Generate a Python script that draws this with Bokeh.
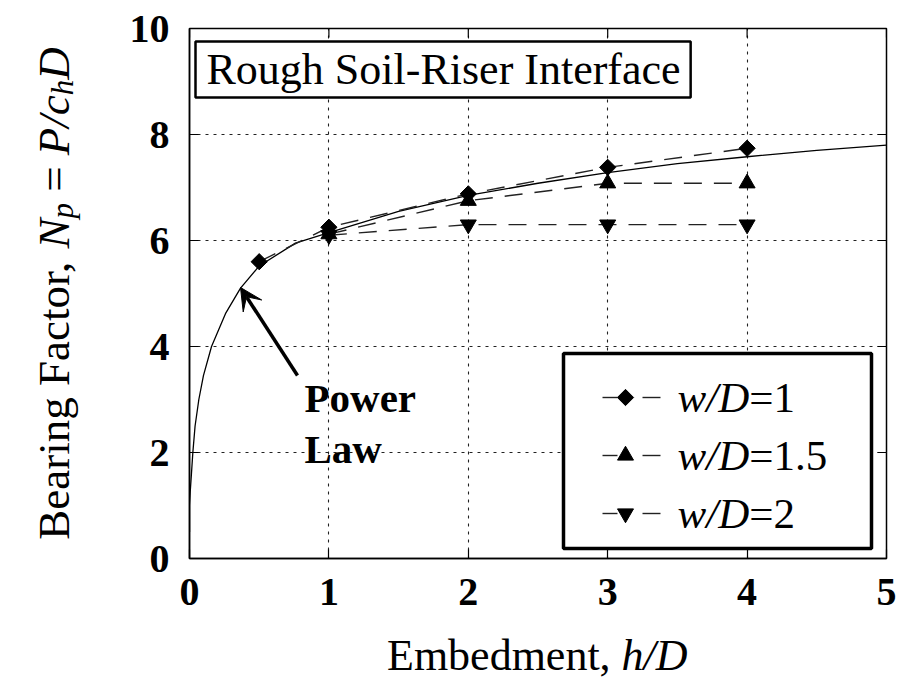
import numpy as np
from bokeh.plotting import figure
from bokeh.layouts import row, column
from bokeh.models import (Range1d, FixedTicker, Label, BoxAnnotation, Arrow, VeeHead, Div)
from bokeh.embed import file_html
from bokeh.resources import INLINE

# ---------------- data ----------------
h_w1 = [0.5, 1, 2, 3, 4]
np_w1 = [5.6, 6.25, 6.88, 7.38, 7.74]
h_w15 = [1, 2, 3, 4]
np_w15 = [6.12, 6.75, 7.08, 7.08]
h_w2 = [1, 2, 3, 4]
np_w2 = [6.1, 6.3, 6.3, 6.3]
power_h = [0.0, 0.0, 0.005, 0.014, 0.024, 0.04, 0.067, 0.1, 0.158, 0.258, 0.366,
           0.5, 0.76, 1.0, 1.5, 2.0, 2.5, 3.0, 3.5, 4.0, 4.5, 5.0]
power_np = [0.5, 1.0, 1.25, 1.6, 2.0, 2.5, 3.0, 3.45, 4.0, 4.62, 5.1,
            5.52, 5.95, 6.15, 6.55, 6.85, 7.08, 7.28, 7.45, 7.58, 7.7, 7.8]
x_ticks = [0, 1, 2, 3, 4, 5]
y_ticks = [0, 2, 4, 6, 8, 10]
series_labels = ["=1", "=1.5", "=2"]
series_markers = ["square", "triangle", "inverted_triangle"]

# ---------------- layout ----------------
W, H = 899, 683
WL = 100            # width of the y-title strip
HM = 628            # height of the main figure
FL, FR, FT, FB = 189, 886, 28, 558   # frame edges in page pixels
XMAX, YMAX = 5.0, 10.0
SERIF = "Liberation Serif"


def px2x(px):
    return (px - FL) / (FR - FL) * XMAX


def px2y(py):
    return (FB - py) / (FB - FT) * YMAX


DX = XMAX / (FR - FL)
DY = YMAX / (FB - FT)


def no_align(f):
    try:
        f.frame_align = False
    except Exception:
        pass


p = figure(width=W - WL, height=HM, output_backend="svg", toolbar_location=None,
           x_range=Range1d(0, XMAX), y_range=Range1d(0, YMAX),
           min_border_left=FL - WL, min_border_right=W - FR,
           min_border_top=FT, min_border_bottom=HM - FB,
           background_fill_color="white", border_fill_color="white")
no_align(p)
p.outline_line_color = "black"
p.outline_line_width = 1.5

for ax, ticks in ((p.xaxis[0], x_ticks), (p.yaxis[0], y_ticks)):
    ax.ticker = FixedTicker(ticks=ticks)
    ax.major_tick_in = 9
    ax.major_tick_out = 0
    ax.minor_tick_in = 0
    ax.minor_tick_out = 0
    ax.axis_line_color = "black"
    ax.axis_line_width = 1.5
    ax.major_tick_line_width = 1.2
    ax.major_label_text_font = SERIF
    ax.major_label_text_font_style = "bold"
    ax.major_label_text_font_size = "40px"
    ax.major_label_text_color = "black"
    ax.major_label_standoff = 20

# inner ticks on the top and right edges
p.segment(x0=x_ticks, y0=[YMAX] * len(x_ticks), x1=x_ticks,
          y1=[YMAX - 9 * DY] * len(x_ticks), line_color="black", line_width=1.2)
p.segment(x0=[XMAX] * len(y_ticks), y0=y_ticks, x1=[XMAX - 9 * DX] * len(y_ticks),
          y1=y_ticks, line_color="black", line_width=1.2)

p.xgrid.ticker = FixedTicker(ticks=x_ticks[1:-1])
p.ygrid.ticker = FixedTicker(ticks=y_ticks[1:-1])
for g in (p.xgrid, p.ygrid):
    g.grid_line_color = "#222222"
    g.grid_line_dash = "3 5"
    g.grid_line_width = 1.1

# ---------------- data marks ----------------
p.line(power_h, power_np, line_color="black", line_width=1.3)
DASH = "18 12"
for hx, ny in ((h_w1, np_w1), (h_w15, np_w15), (h_w2, np_w2)):
    p.line(hx, ny, line_color="#222222", line_width=1.4, line_dash=DASH)
p.scatter(h_w1, np_w1, marker="square", angle=np.pi / 4, size=11.5, color="black")
p.scatter(h_w15, np_w15, marker="triangle", size=16, color="black")
p.scatter(h_w2, np_w2, marker="inverted_triangle", size=16, color="black")

# ---------------- "Power Law" annotation ----------------
p.add_layout(Arrow(end=VeeHead(size=22, fill_color="black", line_color="black"),
                   x_start=px2x(297), y_start=px2y(375), x_end=px2x(240), y_end=px2y(287),
                   line_width=3.5, line_color="black"))
for txt, base in (("Power", 397), ("Law", 448)):
    p.add_layout(Label(x=px2x(304), y=px2y(base), text=txt, text_font=SERIF,
                       text_font_style="bold", text_font_size="41px", text_color="black",
                       text_baseline="alphabetic", text_align="left"))

# ---------------- text metrics (Times-compatible) ----------------
REG = {' ': 250, ',': 250, '-': 333, '.': 250, '/': 278, '=': 564, 'B': 667, 'D': 722,
       'E': 611, 'F': 556, 'I': 333, 'L': 611, 'N': 722, 'P': 556, 'R': 667, 'S': 556,
       'a': 444, 'b': 500, 'c': 444, 'd': 500, 'e': 444, 'f': 333, 'g': 500, 'h': 500,
       'i': 278, 'l': 278, 'm': 778, 'n': 500, 'o': 500, 'p': 500, 'r': 333, 's': 389,
       't': 278, 'u': 500, 'w': 722}
for c in "0123456789":
    REG[c] = 500
ITA = {'N': 667, 'P': 611, 'D': 722, 'c': 444, 'h': 500, 'p': 500, 'w': 667, '/': 278}


def tw(s, table, size):
    return sum(table.get(c, 500) for c in s) / 1000.0 * size


# ---------------- title box ----------------
TSIZE = 44
title_txt = "Rough Soil-Riser Interface"
t_left = 206
t_right = t_left + tw(title_txt, REG, TSIZE) + 10
p.add_layout(BoxAnnotation(left=px2x(195), right=px2x(t_right), top=px2y(41), bottom=px2y(97),
                           fill_color="white", fill_alpha=1.0, line_color="black",
                           line_alpha=1.0, line_width=2.5))
p.add_layout(Label(x=px2x(t_left), y=px2y(69), text=title_txt, text_font=SERIF,
                   text_font_size=f"{TSIZE}px", text_color="black",
                   text_baseline="middle", text_align="left"))

# ---------------- legend (drawn by hand) ----------------
p.add_layout(BoxAnnotation(left=px2x(563), right=px2x(871), top=px2y(353), bottom=px2y(548),
                           fill_color="white", fill_alpha=1.0, line_color="black",
                           line_alpha=1.0, line_width=3.5, level="annotation"))
leg_y = [397, 455, 513]
LSIZE = 43
for i, (mk, lab) in enumerate(zip(series_markers, series_labels)):
    yy = px2y(leg_y[i])
    p.segment(x0=[px2x(602)], y0=[yy], x1=[px2x(617)], y1=[yy], line_color="#222222",
              line_width=1.4, level="overlay")
    p.segment(x0=[px2x(642)], y0=[yy], x1=[px2x(660)], y1=[yy], line_color="#222222",
              line_width=1.4, level="overlay")
    if mk == "square":
        p.scatter([px2x(625)], [yy], marker=mk, angle=np.pi / 4, size=11.5, color="black",
                  level="overlay")
    else:
        p.scatter([px2x(625)], [yy], marker=mk, size=16, color="black", level="overlay")
    p.add_layout(Label(x=px2x(677), y=yy, text="w/D", text_font=SERIF,
                       text_font_style="italic", text_font_size=f"{LSIZE}px",
                       text_color="black", text_baseline="middle", text_align="left"))
    p.add_layout(Label(x=px2x(677 + tw("w/D", ITA, LSIZE)), y=yy, text=lab, text_font=SERIF,
                       text_font_size=f"{LSIZE}px", text_color="black",
                       text_baseline="middle", text_align="left"))


def strip(width, height, xr, yr, bl=0, br=0, bt=0, bb=0):
    f = figure(width=width, height=height, output_backend="svg", toolbar_location=None,
               x_range=Range1d(*xr), y_range=Range1d(*yr),
               x_axis_type=None, y_axis_type=None,
               min_border_left=bl, min_border_right=br, min_border_top=bt,
               min_border_bottom=bb,
               background_fill_color="white", border_fill_color="white")
    no_align(f)
    f.outline_line_color = None
    f.xgrid.visible = False
    f.ygrid.visible = False
    return f


# ---------------- x title (HTML text, mixed upright / italic) ----------------
XS = 44
x_width = tw("Embedment, ", REG, XS) + tw("h/D", ITA, XS)
pad_left = int(round((FL + FR) / 2 - x_width / 2 - WL))
xdiv = Div(
    text=(f'<div style="font-family:\'{SERIF}\'; font-size:{XS}px; line-height:{XS}px; '
          f'color:black; white-space:nowrap; '
          f'padding-left:{pad_left}px; margin:0; padding-top:6px;">'
          'Embedment, <i>h/D</i></div>'),
    width=W - WL, height=H - HM, styles={"margin": "0px", "padding": "0px"})

# ---------------- y title strip (rotated, reading upward) ----------------
YS = 45
SUB = 31
yf = strip(WL, H, (0, WL), (FB, FT), bt=FT, bb=H - FB)
SP = tw(" ", REG, YS)
y_pieces = [("Bearing Factor,", "normal", REG, YS, 0, 0.0),
            ("N", "italic", ITA, YS, 0, SP),
            ("p", "italic", ITA, SUB, 9, 0.0),
            ("=", "normal", REG, YS, 0, SP),
            ("P/c", "italic", ITA, YS, 0, SP),
            ("h", "italic", ITA, SUB, 9, 0.0),
            ("D", "italic", ITA, YS, 0, 0.0)]
y_total = sum(tw(s, t, sz) + g for s, _, t, sz, _, g in y_pieces)
cy = (FT + FB) / 2 + y_total / 2
base_x = 53
for s, st, t, sz, off, gap in y_pieces:
    cy -= gap
    yf.add_layout(Label(x=base_x + off, y=cy, text=s, text_font=SERIF, text_font_style=st,
                        text_font_size=f"{sz}px", text_color="black",
                        text_baseline="alphabetic", text_align="left", angle=np.pi / 2))
    cy -= tw(s, t, sz)

layout = row(yf, column(p, xdiv))
open("out.html", "w").write(file_html(layout, INLINE))
